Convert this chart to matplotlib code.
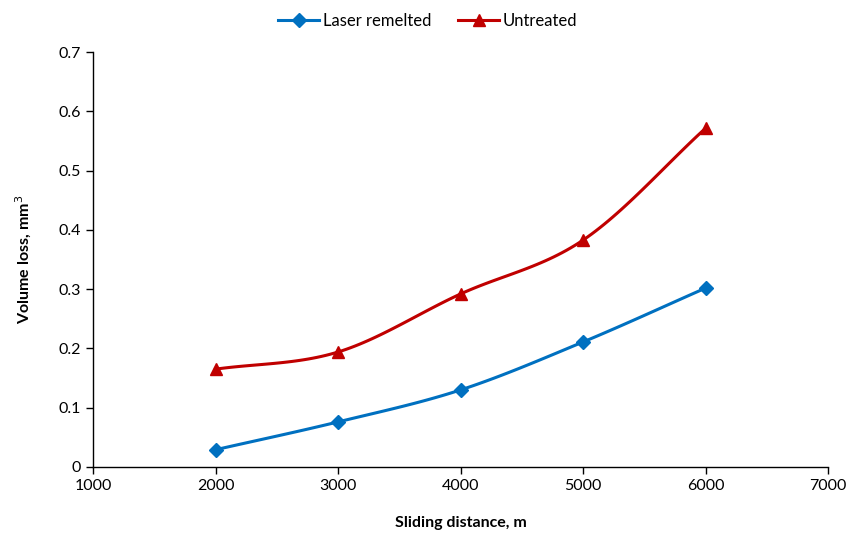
import matplotlib
matplotlib.use("Agg")
import matplotlib.pyplot as plt
import numpy as np

plt.rcParams['font.family'] = ['Lato', 'DejaVu Sans']

distance = [2000, 3000, 4000, 5000, 6000]
laser_remelted = [0.029, 0.076, 0.130, 0.211, 0.302]
untreated = [0.165, 0.194, 0.292, 0.383, 0.572]

x_ticks = [1000, 2000, 3000, 4000, 5000, 6000, 7000]
y_ticks = [0, 0.1, 0.2, 0.3, 0.4, 0.5, 0.6, 0.7]


# smooth curve through the points, like the spreadsheet "smoothed line" option
def smooth(xs, ys, n=30):
    xs = np.asarray(xs, dtype=float)
    ys = np.asarray(ys, dtype=float)
    px = np.concatenate([[2 * xs[0] - xs[1]], xs, [2 * xs[-1] - xs[-2]]])
    py = np.concatenate([[2 * ys[0] - ys[1]], ys, [2 * ys[-1] - ys[-2]]])
    out_x, out_y = [], []
    t = np.linspace(0, 1, n)
    for i in range(1, len(px) - 2):
        p0, p1, p2, p3 = px[i - 1], px[i], px[i + 1], px[i + 2]
        q0, q1, q2, q3 = py[i - 1], py[i], py[i + 1], py[i + 2]
        bx = [p1, p1 + (p2 - p0) / 6, p2 - (p3 - p1) / 6, p2]
        by = [q1, q1 + (q2 - q0) / 6, q2 - (q3 - q1) / 6, q2]
        cx = ((1 - t) ** 3 * bx[0] + 3 * (1 - t) ** 2 * t * bx[1]
              + 3 * (1 - t) * t ** 2 * bx[2] + t ** 3 * bx[3])
        cy = ((1 - t) ** 3 * by[0] + 3 * (1 - t) ** 2 * t * by[1]
              + 3 * (1 - t) * t ** 2 * by[2] + t ** 3 * by[3])
        out_x.extend(cx)
        out_y.extend(cy)
    return out_x, out_y


fig = plt.figure(figsize=(8.61, 5.33), dpi=100)
ax = fig.add_axes([0.108, 0.124, 0.854, 0.778])

blue = "#0070C0"
red = "#C00000"

sx, sy = smooth(distance, laser_remelted)
ax.plot(sx, sy, color=blue, lw=2.2)
ax.plot(distance, laser_remelted, ls="none", marker="D", ms=7, color=blue)
sx, sy = smooth(distance, untreated)
ax.plot(sx, sy, color=red, lw=2.2)
ax.plot(distance, untreated, ls="none", marker="^", ms=8, color=red)

# legend proxies
ax.plot([], [], color=blue, lw=2.2, marker="D", ms=7, label="Laser remelted")
ax.plot([], [], color=red, lw=2.2, marker="^", ms=8, label="Untreated")
ax.legend(loc="lower center", bbox_to_anchor=(0.455, 1.04), ncol=2, frameon=False,
          fontsize=12, handlelength=2.5, handletextpad=0.2, columnspacing=1.6,
          borderaxespad=0)

ax.set_xlim(1000, 7000)
ax.set_ylim(0, 0.7)
ax.set_xticks(x_ticks)
ax.set_yticks(y_ticks)
ax.set_xticklabels([str(v) for v in x_ticks])
ax.set_yticklabels(["0"] + ["%.1f" % v for v in y_ticks[1:]])
ax.tick_params(direction="out", length=5, width=1, labelsize=11.5, colors="black")
for s in ["top", "right"]:
    ax.spines[s].set_visible(False)
for s in ["left", "bottom"]:
    ax.spines[s].set_linewidth(1.0)

ax.set_xlabel("Sliding distance, m", fontsize=11.5, fontweight="bold", labelpad=17)
ax.set_ylabel("Volume loss, mm$^3$", fontsize=11.5, fontweight="bold", labelpad=18)

fig.savefig("out.png", dpi=100)
